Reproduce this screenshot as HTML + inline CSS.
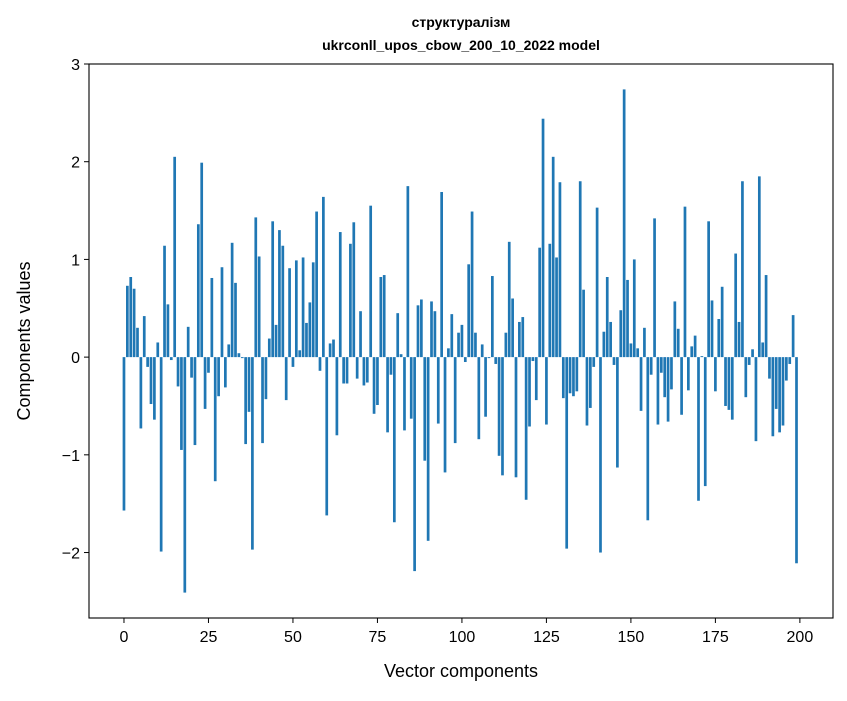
<!DOCTYPE html>
<html><head><meta charset="utf-8"><style>
body{margin:0;background:#fff;font-family:"Liberation Sans","DejaVu Sans",sans-serif;}
svg text{font-family:"Liberation Sans","DejaVu Sans",sans-serif;}
</style></head><body>
<svg id="chart" width="847" height="696" xmlns="http://www.w3.org/2000/svg">
<rect width="847" height="696" fill="#fff"/>
<text x="461" y="27" text-anchor="middle" font-size="14" font-weight="bold">структуралізм</text>
<text x="461" y="50" text-anchor="middle" font-size="14" font-weight="bold">ukrconll_upos_cbow_200_10_2022 model</text>
<g id="bars"></g>
<g id="axes"></g>
<text x="461" y="677" text-anchor="middle" font-size="18">Vector components</text>
<text transform="translate(30,341) rotate(-90)" text-anchor="middle" font-size="18">Components values</text>
</svg>
<script>
const values = [-1.57,0.73,0.82,0.70,0.30,-0.73,0.42,-0.10,-0.48,-0.64,
0.15,-1.99,1.14,0.54,-0.03,2.05,-0.30,-0.95,-2.41,0.31,
-0.21,-0.90,1.36,1.99,-0.53,-0.16,0.81,-1.27,-0.40,0.92,
-0.31,0.13,1.17,0.76,0.04,-0.01,-0.89,-0.56,-1.97,1.43,
1.03,-0.88,-0.43,0.19,1.39,0.33,1.30,1.14,-0.44,0.91,
-0.10,0.99,0.07,1.02,0.35,0.56,0.97,1.49,-0.14,1.64,
-1.62,0.14,0.18,-0.80,1.28,-0.27,-0.27,1.16,1.38,-0.22,
0.47,-0.29,-0.26,1.55,-0.58,-0.49,0.82,0.84,-0.77,-0.18,
-1.69,0.45,0.03,-0.75,1.75,-0.63,-2.19,0.53,0.59,-1.06,
-1.88,0.57,0.47,-0.68,1.69,-1.18,0.09,0.44,-0.88,0.25,
0.33,-0.05,0.95,1.49,0.25,-0.84,0.13,-0.61,-0.01,0.83,
-0.07,-1.01,-1.21,0.25,1.18,0.60,-1.23,0.36,0.41,-1.46,
-0.71,-0.04,-0.44,1.12,2.44,-0.69,1.16,2.05,1.02,1.79,
-0.42,-1.96,-0.37,-0.40,-0.35,1.80,0.69,-0.70,-0.52,-0.10,
1.53,-2.00,0.26,0.82,0.36,-0.08,-1.13,0.48,2.74,0.79,
0.14,1.00,0.09,-0.55,0.30,-1.67,-0.18,1.42,-0.69,-0.16,
-0.41,-0.66,-0.33,0.57,0.29,-0.59,1.54,-0.34,0.11,0.22,
-1.47,0.01,-1.32,1.39,0.58,-0.35,0.39,0.72,-0.50,-0.54,
-0.64,1.06,0.36,1.80,-0.41,-0.08,0.08,-0.86,1.85,0.15,
0.84,-0.22,-0.81,-0.53,-0.77,-0.70,-0.24,-0.07,0.43,-2.11];
const xTicks = [0,25,50,75,100,125,150,175,200];
const yTicks = [-2,-1,0,1,2,3];
const yTickLabels = ["\u22122","\u22121","0","1","2","3"];

const NS="http://www.w3.org/2000/svg";
const L=89,R=833,T=64,B=618;
const xMin=-10.35,xMax=209.8,yMin=-2.67,yMax=3.0;
const sx=v=>L+(v-xMin)/(xMax-xMin)*(R-L);
const sy=v=>B-(v-yMin)/(yMax-yMin)*(B-T);
const bars=document.getElementById('bars');
values.forEach((v,i)=>{
  const r=document.createElementNS(NS,'rect');
  const x0=sx(i-0.4),x1=sx(i+0.4);
  const y0=sy(Math.max(v,0)),y1=sy(Math.min(v,0));
  r.setAttribute('x',x0);r.setAttribute('width',x1-x0);
  r.setAttribute('y',y0);r.setAttribute('height',Math.max(y1-y0,0.3));
  r.setAttribute('fill','#1f77b4');
  
  
  bars.appendChild(r);
});
const ax=document.getElementById('axes');
const frame=document.createElementNS(NS,'rect');
frame.setAttribute('x',L);frame.setAttribute('y',T);frame.setAttribute('width',R-L);frame.setAttribute('height',B-T);
frame.setAttribute('fill','none');frame.setAttribute('stroke','#000');frame.setAttribute('stroke-width','1.1');


ax.appendChild(frame);
xTicks.forEach(t=>{
  const x=sx(t);
  const l=document.createElementNS(NS,'line');
  l.setAttribute('x1',x);l.setAttribute('x2',x);l.setAttribute('y1',B);l.setAttribute('y2',B+5);l.setAttribute('stroke','#000');
  
  
  ax.appendChild(l);
  const tx=document.createElementNS(NS,'text');
  tx.setAttribute('x',x);tx.setAttribute('y',B+24);tx.setAttribute('text-anchor','middle');tx.setAttribute('font-size','16');
  tx.textContent=t;
  
  
  ax.appendChild(tx);
});
yTicks.forEach((t,i)=>{
  const y=sy(t);
  const l=document.createElementNS(NS,'line');
  l.setAttribute('x1',L-5);l.setAttribute('x2',L);l.setAttribute('y1',y);l.setAttribute('y2',y);l.setAttribute('stroke','#000');
  
  
  ax.appendChild(l);
  const tx=document.createElementNS(NS,'text');
  tx.setAttribute('x',L-9);tx.setAttribute('y',y+6);tx.setAttribute('text-anchor','end');tx.setAttribute('font-size','16');
  tx.textContent=yTickLabels[i];
  
  
  ax.appendChild(tx);
});
</script>
</body></html>
